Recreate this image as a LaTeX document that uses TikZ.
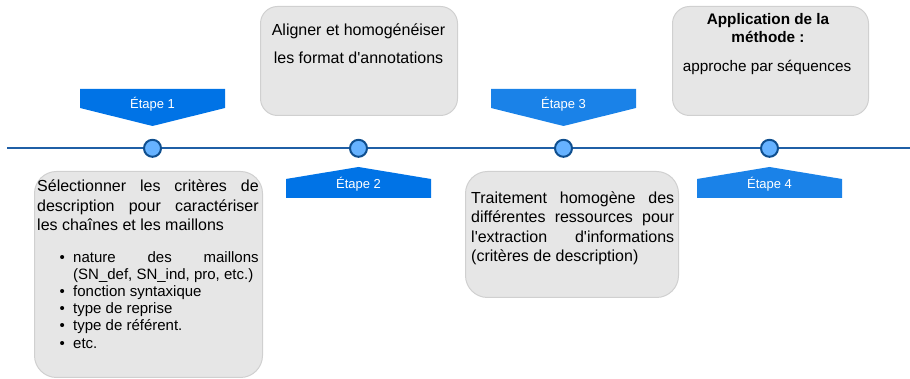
\documentclass[tikz,border=0pt]{standalone}
\usepackage{fontspec}
\setmainfont{Liberation Sans}
\definecolor{boxfill}{HTML}{E6E6E6}
\definecolor{boxline}{HTML}{D0D0D0}
\definecolor{lineblue}{HTML}{1F5FA6}
\definecolor{dotfill}{HTML}{66B2FF}
\definecolor{dotline}{HTML}{0F4F8F}
\definecolor{etA}{HTML}{0073E6}
\definecolor{etB}{HTML}{1A82E8}
\begin{document}
\begin{tikzpicture}[x=1pt,y=1pt,
  box/.style={draw=boxline, fill=boxfill, line width=1pt, inner sep=0pt, anchor=south west},
  dot/.style={circle, draw=dotline, fill=dotfill, line width=2pt, minimum size=17pt, inner sep=0pt},
  timeline/.style={draw=lineblue, line width=1.8pt},
  etape/.style={text=white, font=\fontsize{13}{15}\selectfont, anchor=base, inner sep=0pt},
  para/.style={anchor=north west, inner sep=0pt, align=justify, font=\fontsize{16}{19.5}\selectfont},
  cline/.style={anchor=base, inner sep=0pt}]
\useasboundingbox (0,0) rectangle (910,379);

% boxes
\node[box, rounded corners=22pt, minimum width=228pt, minimum height=206pt] (b1) at (34,1) {};
\node[box, rounded corners=17pt, minimum width=197pt, minimum height=109pt] (b2) at (260,263) {};
\node[box, rounded corners=22pt, minimum width=213pt, minimum height=126pt] (b3) at (465,81) {};
\node[box, rounded corners=17pt, minimum width=196pt, minimum height=109pt] (b4) at (672,263) {};

% timeline
\coordinate (tl) at (7,230.7);
\coordinate (tr) at (910,230.7);
\draw[timeline] (tl) -- (tr);
\node[dot] (c1) at (152.5,230.7) {};
\node[dot] (c2) at (358.5,230.7) {};
\node[dot] (c3) at (563.5,230.7) {};
\node[dot] (c4) at (769.5,230.7) {};

% step markers
\fill[etA] (80,290) -- (225,290) -- (225,271) -- (152.5,253) -- (80,271) -- cycle;
\fill[etA] (286,181) -- (431,181) -- (431,200) -- (358.5,212) -- (286,200) -- cycle;
\fill[etB] (491,290) -- (636,290) -- (636,271) -- (563.5,253) -- (491,271) -- cycle;
\fill[etB] (697,181) -- (842,181) -- (842,200) -- (769.5,212) -- (697,200) -- cycle;
\node[etape] (e1) at (152.5,270) {Étape 1};
\node[etape] (e2) at (358.5,190) {Étape 2};
\node[etape] (e3) at (563.5,270) {Étape 3};
\node[etape] (e4) at (769.5,190) {Étape 4};

% box 1 text
\node[para, text width=221.5pt] (t1) at (37,203.5) {\parindent=0pt\rule{0pt}{16pt}Sélectionner les critères de\linebreak description pour caractériser\linebreak les chaînes et les maillons};
\node[para, text width=185.5pt, font=\fontsize{15}{17.2}\selectfont] (t1list) at (73,132) {\parindent=0pt
\noindent\rule{0pt}{15pt}\llap{\textbullet\hspace{8.4pt}}nature des maillons\linebreak (SN\_def, SN\_ind, pro, etc.)\par
\noindent\llap{\textbullet\hspace{8.4pt}}fonction syntaxique\par
\noindent\llap{\textbullet\hspace{8.4pt}}type de reprise\par
\noindent\llap{\textbullet\hspace{8.4pt}}type de référent.\par
\noindent\llap{\textbullet\hspace{8.4pt}}etc.};

% box 2 text
\node[cline, font=\fontsize{16}{18}\selectfont] (t2a) at (358.5,343) {Aligner et homogénéiser};
\node[cline, font=\fontsize{16}{18}\selectfont] (t2b) at (358.5,315) {les format d\textquotesingle annotations};

% box 3 text
\node[para, text width=203pt] (t3) at (471,192) {\parindent=0pt\rule{0pt}{16pt}Traitement homogène des\linebreak différentes ressources pour\linebreak l\textquotesingle extraction d\textquotesingle informations\linebreak (critères de description)};

% box 4 text
\node[cline, font=\fontsize{15.3}{18}\selectfont\bfseries] (t4a) at (768,354.5) {Application de la};
\node[cline, font=\fontsize{15.3}{18}\selectfont\bfseries] (t4b) at (768,336.5) {méthode :};
\node[cline, font=\fontsize{15.3}{18}\selectfont] (t4c) at (767,307.5) {approche par séquences};
\end{tikzpicture}
\end{document}
